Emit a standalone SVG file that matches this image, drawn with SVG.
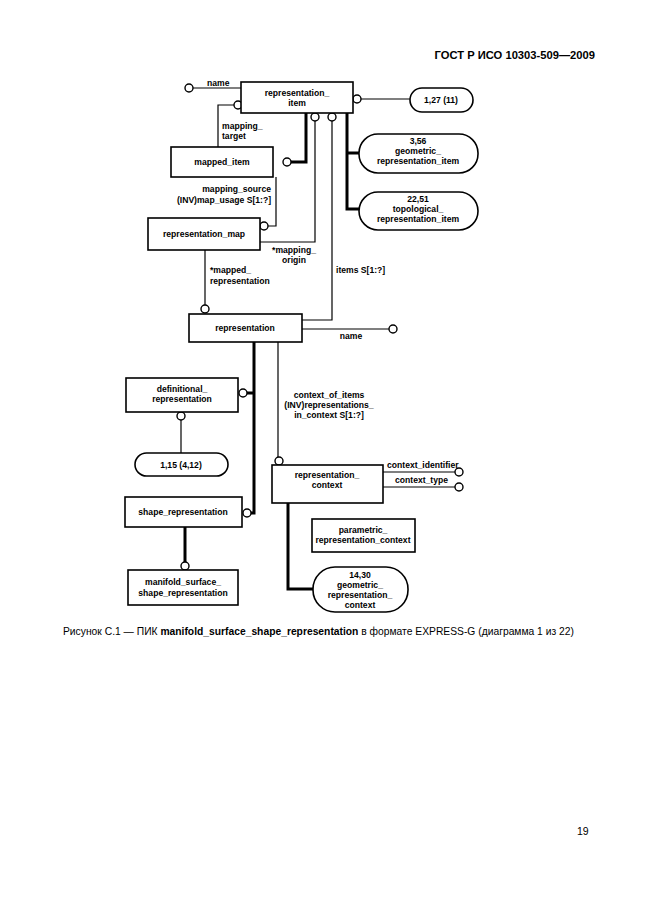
<svg xmlns="http://www.w3.org/2000/svg" width="646" height="913" viewBox="0 0 646 913">
<style>
.bx{fill:#fff;stroke:#000;stroke-width:1.6}
.t{font-family:"Liberation Sans",Arial,sans-serif;font-size:8.6px;font-weight:bold;fill:#000}
.c{text-anchor:middle}
.e{text-anchor:end}
.ln{fill:none;stroke:#000;stroke-width:1.2}
.tk{fill:none;stroke:#000;stroke-width:3}
.ci{fill:#fff;stroke:#000;stroke-width:1.4}
</style>
<rect width="646" height="913" fill="#fff"/>
<text x="595" y="59" font-family="Liberation Sans,Arial,sans-serif" font-size="11.2" font-weight="bold" text-anchor="end">ГОСТ Р ИСО 10303-509—2009</text>

<g id="connectors">
  <path class="ln" d="M193,88 H241"/>
  <path class="ln" d="M234,105 H218 V147"/>
  <path class="ln" d="M361,99 H410"/>
  <path class="tk" d="M291,162 H306 V113"/>
  <path class="ln" d="M315,121 V242 H260"/>
  <path class="ln" d="M332,121 V320 H302"/>
  <path class="tk" d="M347,113 V209 H359 M347,153 H359"/>
  <path class="ln" d="M276,177 V226 H268"/>
  <path class="ln" d="M205,250 V305"/>
  <path class="ln" d="M302,329 H389"/>
  <path class="tk" d="M254,342 V513 H251 M254,393 H247"/>
  <path class="ln" d="M278,342 V457"/>
  <path class="ln" d="M181,420 V453"/>
  <path class="ln" d="M383,472 H455"/>
  <path class="ln" d="M383,487 H455"/>
  <path class="tk" d="M288,503 V589 H313"/>
  <path class="tk" d="M185,527 V562"/>
  <circle class="ci" cx="189" cy="88" r="4"/>
  <circle class="ci" cx="238" cy="105" r="4"/>
  <circle class="ci" cx="357" cy="99" r="4"/>
  <circle class="ci" cx="287" cy="162" r="4"/>
  <circle class="ci" cx="315" cy="117" r="4"/>
  <circle class="ci" cx="332" cy="117" r="4"/>
  <circle class="ci" cx="264" cy="226" r="4"/>
  <circle class="ci" cx="205" cy="309" r="4"/>
  <circle class="ci" cx="393" cy="329" r="4"/>
  <circle class="ci" cx="243" cy="393" r="4"/>
  <circle class="ci" cx="247" cy="513" r="4"/>
  <circle class="ci" cx="279" cy="461" r="4"/>
  <circle class="ci" cx="181" cy="416" r="4"/>
  <circle class="ci" cx="459" cy="472" r="4"/>
  <circle class="ci" cx="459" cy="487" r="4"/>
  <circle class="ci" cx="185" cy="566" r="4"/>
  <text class="t" x="207" y="86">name</text>
  <text class="t" x="222" y="129">mapping_</text>
  <text class="t" x="222" y="139">target</text>
  <text class="t e" x="271" y="192">mapping_source</text>
  <text class="t e" x="271" y="203">(INV)map_usage S[1:?]</text>
  <text class="t c" x="294" y="253">*mapping_</text>
  <text class="t c" x="294" y="263">origin</text>
  <text class="t" x="210" y="273">*mapped_</text>
  <text class="t" x="210" y="284">representation</text>
  <text class="t" x="336" y="273">items S[1:?]</text>
  <text class="t c" x="351" y="339">name</text>
  <text class="t c" x="329" y="398">context_of_items</text>
  <text class="t c" x="329" y="408">(INV)representations_</text>
  <text class="t c" x="329" y="418">in_context S[1:?]</text>
  <text class="t" x="387" y="468">context_identifier</text>
  <text class="t" x="395" y="483">context_type</text>
</g>

<g id="representation_item">
  <rect class="bx" x="241" y="82" width="112" height="31"/>
  <text class="t c" x="297" y="96">representation_</text>
  <text class="t c" x="297" y="106">item</text>
</g>
<g id="ref_1_27">
  <rect class="bx" x="410" y="88" width="63" height="24" rx="12"/>
  <text class="t c" x="441" y="103">1,27 (11)</text>
</g>
<g id="geometric_representation_item">
  <rect class="bx" x="359" y="134" width="119" height="39" rx="19"/>
  <text class="t c" x="418" y="144">3,56</text>
  <text class="t c" x="418" y="154">geometric_</text>
  <text class="t c" x="418" y="164">representation_item</text>
</g>
<g id="topological_representation_item">
  <rect class="bx" x="359" y="192" width="119" height="38" rx="19"/>
  <text class="t c" x="418" y="202">22,51</text>
  <text class="t c" x="418" y="212">topological_</text>
  <text class="t c" x="418" y="222">representation_item</text>
</g>
<g id="mapped_item">
  <rect class="bx" x="171" y="147" width="102" height="30"/>
  <text class="t c" x="222" y="165">mapped_item</text>
</g>
<g id="representation_map">
  <rect class="bx" x="148" y="218" width="112" height="32"/>
  <text class="t c" x="204" y="237">representation_map</text>
</g>
<g id="representation">
  <rect class="bx" x="189" y="314" width="113" height="28"/>
  <text class="t c" x="245" y="331">representation</text>
</g>
<g id="definitional_representation">
  <rect class="bx" x="126" y="378" width="112" height="34"/>
  <text class="t c" x="182" y="392">definitional_</text>
  <text class="t c" x="182" y="402">representation</text>
</g>
<g id="ref_1_15">
  <rect class="bx" x="135" y="453" width="93" height="23" rx="11.5"/>
  <text class="t c" x="181" y="468">1,15 (4,12)</text>
</g>
<g id="representation_context">
  <rect class="bx" x="272" y="465" width="111" height="38"/>
  <text class="t c" x="327" y="478">representation_</text>
  <text class="t c" x="327" y="488">context</text>
</g>
<g id="shape_representation">
  <rect class="bx" x="125" y="497" width="117" height="30"/>
  <text class="t c" x="183" y="515">shape_representation</text>
</g>
<g id="parametric_representation_context">
  <rect class="bx" x="312" y="519" width="103" height="33"/>
  <text class="t c" x="363" y="533">parametric_</text>
  <text class="t c" x="363" y="543">representation_context</text>
</g>
<g id="manifold_surface_shape_representation">
  <rect class="bx" x="128" y="570" width="110" height="35"/>
  <text class="t c" x="183" y="585">manifold_surface_</text>
  <text class="t c" x="183" y="596">shape_representation</text>
</g>
<g id="geometric_representation_context">
  <rect class="bx" x="313" y="567" width="95" height="45" rx="22"/>
  <text class="t c" x="360" y="578">14,30</text>
  <text class="t c" x="360" y="588">geometric_</text>
  <text class="t c" x="360" y="598">representation_</text>
  <text class="t c" x="360" y="608">context</text>
</g>

<text x="63" y="635" font-family="Liberation Sans,Arial,sans-serif" font-size="10.3">Рисунок С.1 — ПИК <tspan font-weight="bold">manifold_surface_shape_representation</tspan> в формате EXPRESS-G (диаграмма 1 из 22)</text>
<text x="577" y="835" font-family="Liberation Sans,Arial,sans-serif" font-size="10.5">19</text>
</svg>
